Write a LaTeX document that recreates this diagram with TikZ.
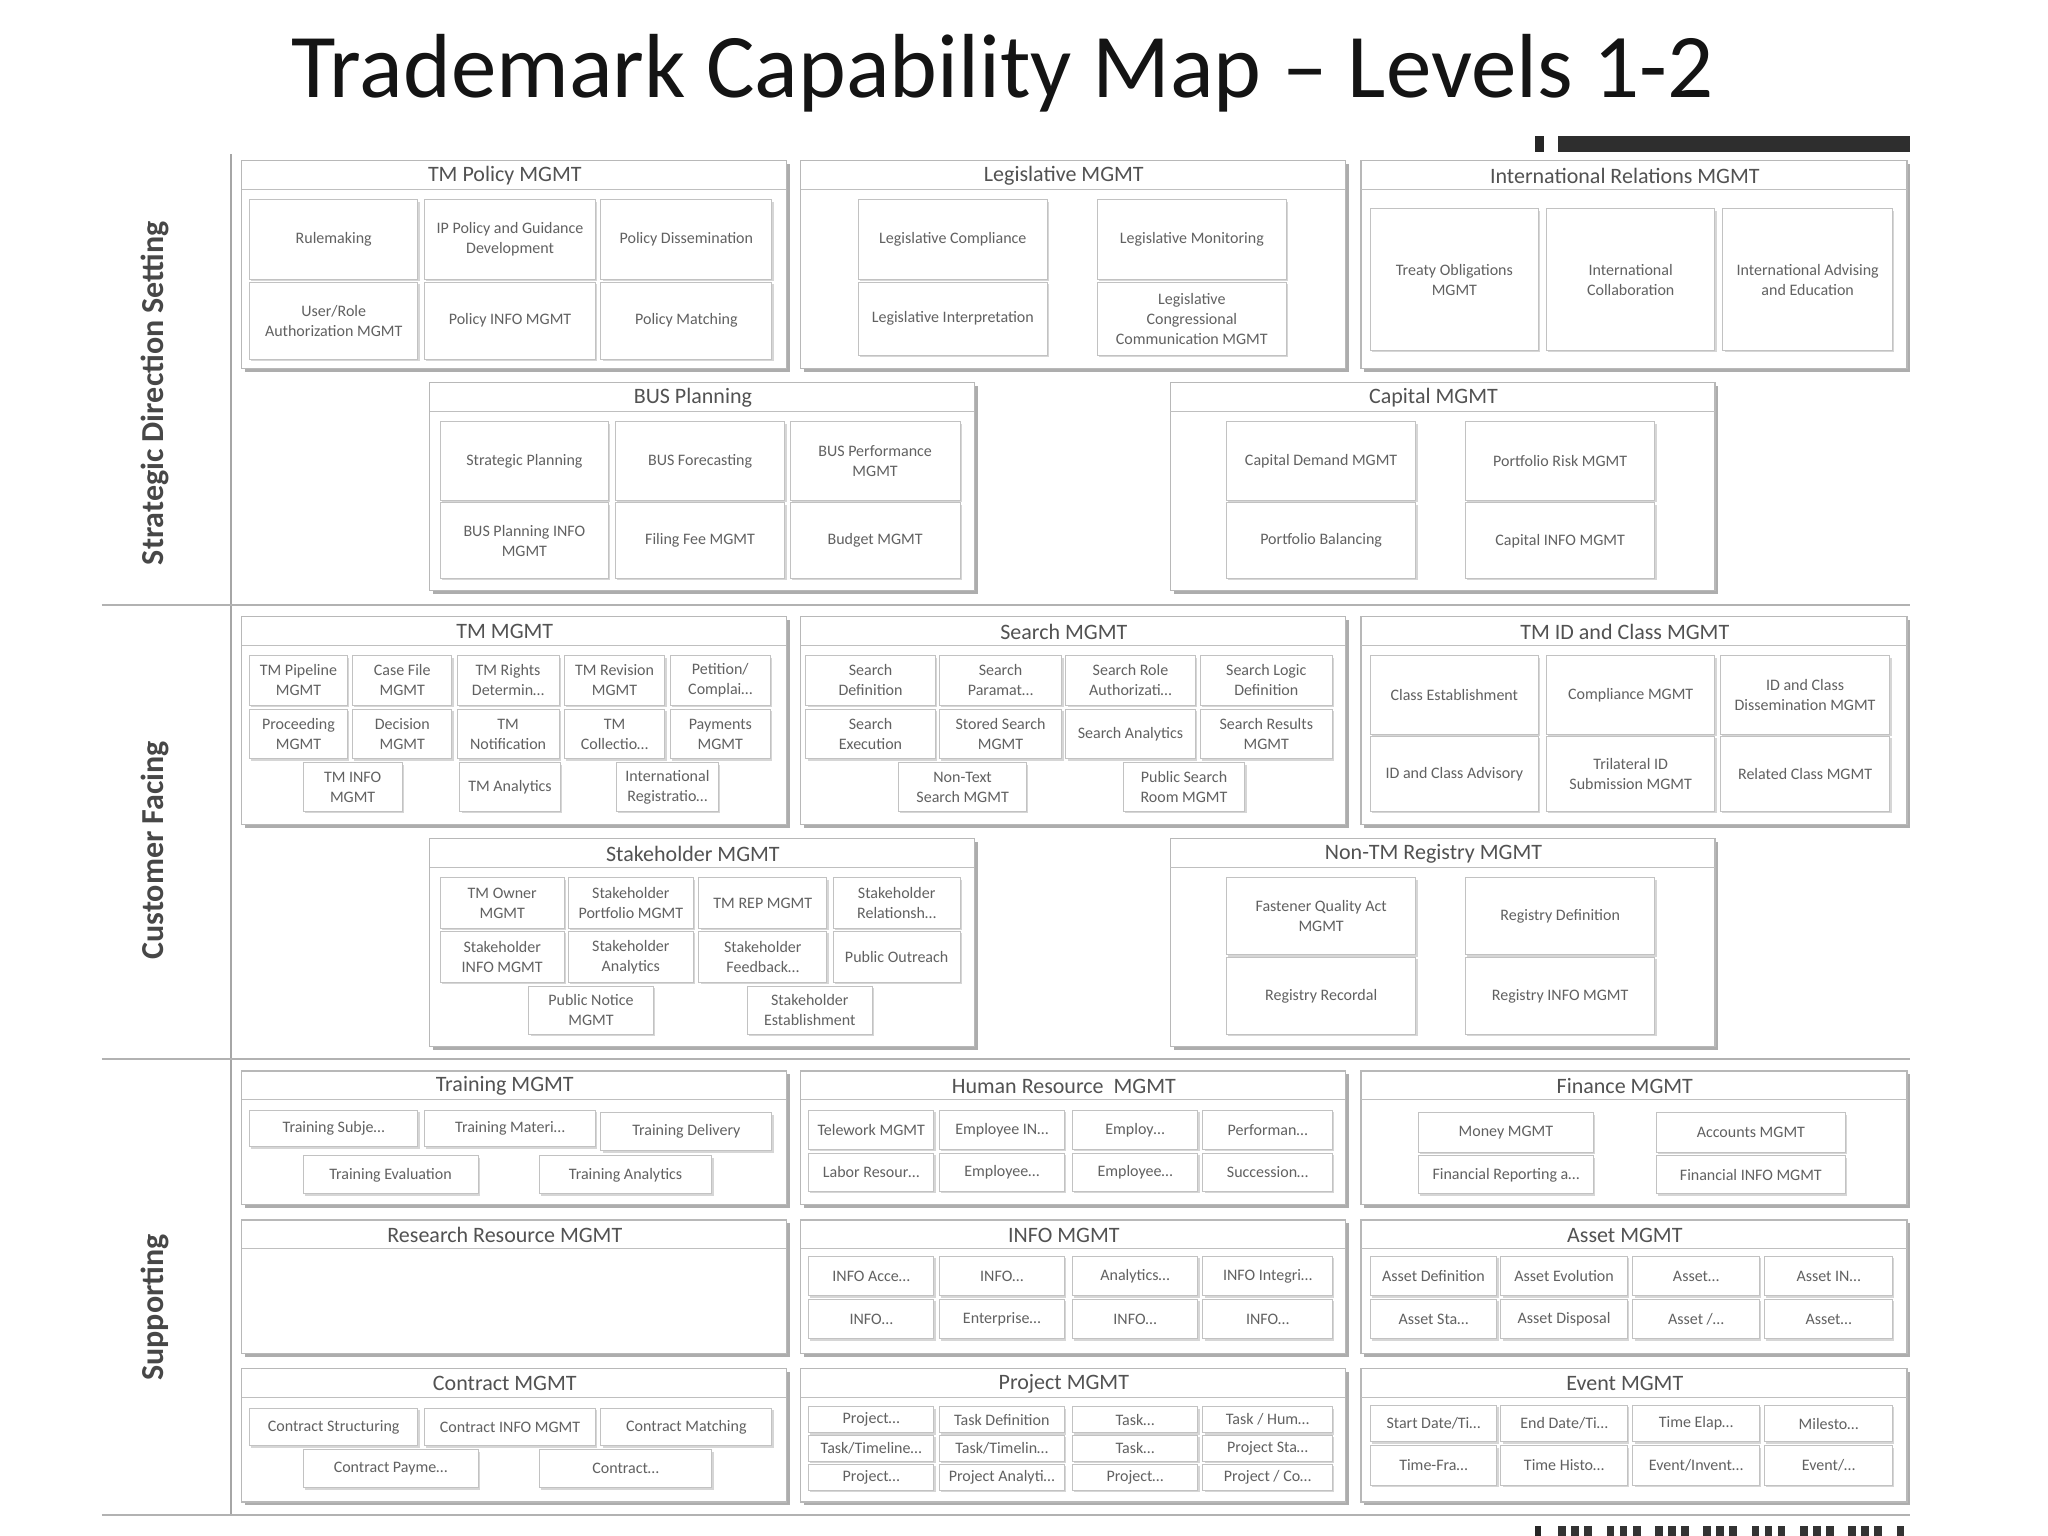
\documentclass[tikz,border=0pt]{standalone}
\usepackage{fontspec}
\setmainfont{Carlito}
\tikzset{
  grpbox/.style={draw=black!28, line width=1.3pt, fill=white, inner sep=0pt, outer sep=0pt},
  grpshadow/.style={fill=black!32},
  hdrline/.style={draw=black!25, line width=1.1pt},
  hdrtxt/.style={font=\fontsize{22}{26}\selectfont, text=black!68, inner sep=0pt},
  itembox/.style={draw=black!24, line width=1pt, fill=white, align=center, inner sep=1pt, outer sep=0pt,
     font=\fontsize{16}{20}\selectfont, text=black!62},
  itmshadow/.style={fill=black!16},
  sepline/.style={draw=black!30, line width=2.2pt},
  axisline/.style={draw=black!35, line width=1.8pt},
  sidelbl/.style={font=\fontsize{32}{36}\selectfont\bfseries, text=black!72, rotate=90, inner sep=0pt},
  titletxt/.style={font=\fontsize{91}{100}\selectfont, text=black!92, inner sep=0pt}
}
\newcommand\grp[6]{%
  \fill[grpshadow] ({#2+2.6},{#3+2.6}) rectangle ({#4+2.6},{#5+2.6});
  \pgfmathsetmacro\gw{(#4-#2)*1.30612}%
  \pgfmathsetmacro\gh{(#5-#3)*1.30612}%
  \node[grpbox, minimum width=\gw pt, minimum height=\gh pt] (#1) at ({(#2+#4)/2},{(#3+#5)/2}) {};
  \draw[hdrline] (#1.north west) ++(0,22) -- ++({#4-#2},0);
  \node[hdrtxt] (#1-t) at ({(#2+#4)/2-7},{#3+11.5}) {#6};
}
\newcommand\itm[6]{%
  \fill[itmshadow] ({#2+1.4},{#3+1.4}) rectangle ({#4+1.4},{#5+1.4});
  \pgfmathsetmacro\iw{(#4-#2)*1.30612}%
  \pgfmathsetmacro\ih{(#5-#3)*1.30612}%
  \node[itembox, minimum width=\iw pt, minimum height=\ih pt] (#1) at ({(#2+#4)/2},{(#3+#5)/2}) {#6};
}
\begin{document}
\begin{tikzpicture}[x=1.30612pt, y=-1.30612pt]
\useasboundingbox (0,0) rectangle (1568,1176);
\fill[white] (0,0) rectangle (1568,1176);

% title
\node[titletxt, anchor=base] (title) at (767.5,75) {Trademark Capability Map – Levels 1-2};

% top right dark bar
\fill[black!85] (1175,104) rectangle (1182,116);
\fill[black!82] (1193,104) rectangle (1462,116);

% frame lines
\draw[axisline] (177,118) -- (177,1160);
\draw[sepline] (78,463) -- (1462,463);
\draw[sepline] (78,811) -- (1462,811);
\draw[sepline] (78,1160) -- (1462,1160);

% side labels
\node[sidelbl] (lsds) at (119,301) {Strategic Direction Setting};
\node[sidelbl] (lcf) at (119,651) {Customer Facing};
\node[sidelbl] (lsup) at (119,1001) {Supporting};

% ---------------- Strategic Direction Setting
\grp{gtp}{185}{123}{602}{282}{TM Policy MGMT}
\itm{tp1}{191}{153}{320}{214}{Rulemaking}
\itm{tp2}{325}{153}{456}{214}{IP Policy and Guidance\\Development}
\itm{tp3}{460}{153}{591}{214}{Policy Dissemination}
\itm{tp4}{191}{216}{320}{275}{User/Role\\Authorization MGMT}
\itm{tp5}{325}{216}{456}{275}{Policy INFO MGMT}
\itm{tp6}{460}{216}{591}{275}{Policy Matching}

\grp{glg}{613}{123}{1030}{282}{Legislative MGMT}
\itm{lg1}{657}{153}{802}{214}{Legislative Compliance}
\itm{lg2}{840}{153}{985}{214}{Legislative Monitoring}
\itm{lg3}{657}{216}{802}{272}{Legislative Interpretation}
\itm{lg4}{840}{216}{985}{272}{Legislative\\Congressional\\Communication MGMT}

\grp{gir}{1042}{123}{1460}{282}{International Relations MGMT}
\itm{ir1}{1049}{160}{1178}{268}{Treaty Obligations\\MGMT}
\itm{ir2}{1184}{160}{1313}{268}{International\\Collaboration}
\itm{ir3}{1319}{160}{1449}{268}{International Advising\\and Education}

\grp{gbp}{329}{293}{746}{452}{BUS Planning}
\itm{bp1}{337}{323}{466}{383}{Strategic Planning}
\itm{bp2}{471}{323}{601}{383}{BUS Forecasting}
\itm{bp3}{605}{323}{735}{383}{BUS Performance\\MGMT}
\itm{bp4}{337}{385}{466}{443}{BUS Planning INFO\\MGMT}
\itm{bp5}{471}{385}{601}{443}{Filing Fee MGMT}
\itm{bp6}{605}{385}{735}{443}{Budget MGMT}

\grp{gcp}{896}{293}{1313}{452}{Capital MGMT}
\itm{cp1}{939}{323}{1084}{383}{Capital Demand MGMT}
\itm{cp2}{1122}{323}{1267}{383}{Portfolio Risk MGMT}
\itm{cp3}{939}{385}{1084}{443}{Portfolio Balancing}
\itm{cp4}{1122}{385}{1267}{443}{Capital INFO MGMT}

% ---------------- Customer Facing
\grp{gtm}{185}{472}{602}{631}{TM MGMT}
\itm{tm1}{191}{502}{266}{540}{TM Pipeline\\MGMT}
\itm{tm2}{270}{502}{346}{540}{Case File\\MGMT}
\itm{tm3}{350}{502}{428}{540}{TM Rights\\Determin…}
\itm{tm4}{432}{502}{509}{540}{TM Revision\\MGMT}
\itm{tm5}{513}{502}{590}{540}{Petition/\\Complai…}
\itm{tm6}{191}{543}{266}{581}{Proceeding\\MGMT}
\itm{tm7}{270}{543}{346}{581}{Decision\\MGMT}
\itm{tm8}{350}{543}{428}{581}{TM\\Notification}
\itm{tm9}{432}{543}{509}{581}{TM\\Collectio…}
\itm{tm10}{513}{543}{590}{581}{Payments\\MGMT}
\itm{tm11}{232}{584}{308}{621}{TM INFO\\MGMT}
\itm{tm12}{352}{584}{429}{621}{TM Analytics}
\itm{tm13}{472}{584}{550}{621}{International\\Registratio…}

\grp{gsr}{613}{472}{1030}{631}{Search MGMT}
\itm{sr1}{617}{502}{716}{540}{Search\\Definition}
\itm{sr2}{719}{502}{813}{540}{Search\\Paramat…}
\itm{sr3}{816}{502}{915}{540}{Search Role\\Authorizati…}
\itm{sr4}{919}{502}{1020}{540}{Search Logic\\Definition}
\itm{sr5}{617}{543}{716}{581}{Search\\Execution}
\itm{sr6}{719}{543}{813}{581}{Stored Search\\MGMT}
\itm{sr7}{816}{543}{915}{581}{Search Analytics}
\itm{sr8}{919}{543}{1020}{581}{Search Results\\MGMT}
\itm{sr9}{688}{584}{786}{621}{Non-Text\\Search MGMT}
\itm{sr10}{860}{584}{953}{621}{Public Search\\Room MGMT}

\grp{gid}{1042}{472}{1460}{631}{TM ID and Class MGMT}
\itm{id1}{1049}{502}{1178}{562}{Class Establishment}
\itm{id2}{1184}{502}{1313}{562}{Compliance MGMT}
\itm{id3}{1317}{502}{1447}{562}{ID and Class\\Dissemination MGMT}
\itm{id4}{1049}{564}{1178}{621}{ID and Class Advisory}
\itm{id5}{1184}{564}{1313}{621}{Trilateral ID\\Submission MGMT}
\itm{id6}{1317}{564}{1447}{621}{Related Class MGMT}

\grp{gsh}{329}{642}{746}{801}{Stakeholder MGMT}
\itm{sh1}{337}{672}{432}{711}{TM Owner\\MGMT}
\itm{sh2}{435}{672}{531}{711}{Stakeholder\\Portfolio MGMT}
\itm{sh3}{535}{672}{633}{711}{TM REP MGMT}
\itm{sh4}{638}{672}{735}{711}{Stakeholder\\Relationsh…}
\itm{sh5}{337}{713}{432}{752}{Stakeholder\\INFO MGMT}
\itm{sh6}{435}{713}{531}{752}{Stakeholder\\Analytics}
\itm{sh7}{535}{713}{633}{752}{Stakeholder\\Feedback…}
\itm{sh8}{638}{713}{735}{752}{Public Outreach}
\itm{sh9}{405}{755}{500}{792}{Public Notice\\MGMT}
\itm{sh10}{572}{755}{668}{792}{Stakeholder\\Establishment}

\grp{gnt}{896}{642}{1313}{801}{Non-TM Registry MGMT}
\itm{nt1}{939}{672}{1084}{731}{Fastener Quality Act\\MGMT}
\itm{nt2}{1122}{672}{1267}{731}{Registry Definition}
\itm{nt3}{939}{733}{1084}{792}{Registry Recordal}
\itm{nt4}{1122}{733}{1267}{792}{Registry INFO MGMT}

% ---------------- Supporting
\grp{gtr}{185}{820}{602}{922}{Training MGMT}
\itm{tr1}{191}{850}{320}{878}{Training Subje…}
\itm{tr2}{325}{850}{456}{878}{Training Materi…}
\itm{tr3}{460}{852}{591}{881}{Training Delivery}
\itm{tr4}{232}{885}{366}{914}{Training Evaluation}
\itm{tr5}{413}{885}{545}{914}{Training Analytics}

\grp{ghr}{613}{820}{1030}{922}{Human Resource~ MGMT}
\itm{hr1}{619}{850}{715}{880}{Telework MGMT}
\itm{hr2}{719}{850}{815}{880}{Employee IN…}
\itm{hr3}{821}{850}{917}{880}{Employ…}
\itm{hr4}{921}{850}{1020}{880}{Performan…}
\itm{hr5}{619}{883}{715}{912}{Labor Resour…}
\itm{hr6}{719}{883}{815}{912}{Employee…}
\itm{hr7}{821}{883}{917}{912}{Employee…}
\itm{hr8}{921}{883}{1020}{912}{Succession…}

\grp{gfn}{1042}{820}{1460}{922}{Finance MGMT}
\itm{fn1}{1086}{852}{1220}{882}{Money MGMT}
\itm{fn2}{1268}{852}{1413}{882}{Accounts MGMT}
\itm{fn3}{1086}{885}{1220}{914}{Financial Reporting a…}
\itm{fn4}{1268}{885}{1413}{914}{Financial INFO MGMT}

\grp{grr}{185}{934}{602}{1036}{Research Resource MGMT}

\grp{gin}{613}{934}{1030}{1036}{INFO MGMT}
\itm{in1}{619}{962}{715}{992}{INFO Acce…}
\itm{in2}{719}{962}{815}{992}{INFO…}
\itm{in3}{821}{962}{917}{992}{Analytics…}
\itm{in4}{921}{962}{1020}{992}{INFO Integri…}
\itm{in5}{619}{995}{715}{1025}{INFO…}
\itm{in6}{719}{995}{815}{1025}{Enterprise…}
\itm{in7}{821}{995}{917}{1025}{INFO…}
\itm{in8}{921}{995}{1020}{1025}{INFO…}

\grp{gas}{1042}{934}{1460}{1036}{Asset MGMT}
\itm{as1}{1049}{962}{1146}{992}{Asset Definition}
\itm{as2}{1149}{962}{1246}{992}{Asset Evolution}
\itm{as3}{1250}{962}{1347}{992}{Asset…}
\itm{as4}{1351}{962}{1449}{992}{Asset IN…}
\itm{as5}{1049}{995}{1146}{1025}{Asset Sta…}
\itm{as6}{1149}{995}{1246}{1025}{Asset Disposal}
\itm{as7}{1250}{995}{1347}{1025}{Asset /…}
\itm{as8}{1351}{995}{1449}{1025}{Asset…}

\grp{gct}{185}{1048}{602}{1150}{Contract MGMT}
\itm{ct1}{191}{1078}{320}{1107}{Contract Structuring}
\itm{ct2}{325}{1078}{456}{1107}{Contract INFO MGMT}
\itm{ct3}{460}{1078}{591}{1107}{Contract Matching}
\itm{ct4}{232}{1110}{366}{1139}{Contract Payme…}
\itm{ct5}{413}{1110}{545}{1139}{Contract…}

\grp{gpj}{613}{1048}{1030}{1150}{Project MGMT}
\itm{pj1}{619}{1077}{715}{1097}{Project…}
\itm{pj2}{719}{1077}{815}{1097}{Task Definition}
\itm{pj3}{821}{1077}{917}{1097}{Task…}
\itm{pj4}{921}{1077}{1020}{1097}{Task / Hum…}
\itm{pj5}{619}{1099}{715}{1119}{Task/Timeline…}
\itm{pj6}{719}{1099}{815}{1119}{Task/Timelin…}
\itm{pj7}{821}{1099}{917}{1119}{Task…}
\itm{pj8}{921}{1099}{1020}{1119}{Project Sta…}
\itm{pj9}{619}{1121}{715}{1141}{Project…}
\itm{pj10}{719}{1121}{815}{1141}{Project Analyti…}
\itm{pj11}{821}{1121}{917}{1141}{Project…}
\itm{pj12}{921}{1121}{1020}{1141}{Project / Co…}

\grp{gev}{1042}{1048}{1460}{1150}{Event MGMT}
\itm{ev1}{1049}{1076}{1146}{1104}{Start Date/Ti…}
\itm{ev2}{1149}{1076}{1246}{1104}{End Date/Ti…}
\itm{ev3}{1250}{1076}{1347}{1104}{Time Elap…}
\itm{ev4}{1351}{1076}{1449}{1104}{Milesto…}
\itm{ev5}{1049}{1107}{1146}{1137}{Time-Fra…}
\itm{ev6}{1149}{1107}{1246}{1137}{Time Histo…}
\itm{ev7}{1250}{1107}{1347}{1137}{Event/Invent…}
\itm{ev8}{1351}{1107}{1449}{1137}{Event/…}

% cut-off dark strip at bottom right
\fill[black!85] (1175,1168) rectangle (1180,1176);
\foreach \xx in {1193,1203,1213,1230,1240,1250,1267,1277,1287,1304,1314,1324,1341,1351,1361,1378,1388,1398,1415,1425,1435,1452}
  \fill[black!80] (\xx,1168) rectangle ({\xx+6},1176);
\end{tikzpicture}
\end{document}
